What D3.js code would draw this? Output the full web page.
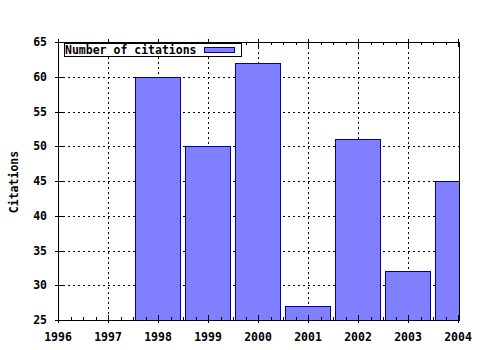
<!DOCTYPE html>
<html>
<head>
<meta charset="utf-8">
<script src="https://cdn.jsdelivr.net/npm/d3@7"></script>
<style>
  body { margin: 0; background: white; }
  text { font-family: "DejaVu Sans Mono", monospace; font-weight: bold; font-size: 11.5px; fill: black; }
</style>
</head>
<body>
<script>
// data
const years = [1998, 1999, 2000, 2001, 2002, 2003, 2004];
const citations = [60, 50, 62, 27, 51, 32, 45];
const xTicks = [1996, 1997, 1998, 1999, 2000, 2001, 2002, 2003, 2004];
const yTicks = [25, 30, 35, 40, 45, 50, 55, 60, 65];
const seriesName = "Number of citations";
const yTitle = "Citations";

const width = 480, height = 350;
const plotL = 58, plotR = 459, plotT = 42, plotB = 320;

const svg = d3.select("body").append("svg")
    .attr("width", width)
    .attr("height", height);

const x = d3.scaleLinear().domain([1996, 2004]).range([plotL, plotR - 1]);
const y = d3.scaleLinear().domain([25, 65]).range([plotB, plotT]);

svg.append("clipPath").attr("id", "plot")
  .append("rect")
    .attr("x", plotL).attr("y", plotT)
    .attr("width", plotR - plotL).attr("height", plotB - plotT);

// grid
const grid = svg.append("g")
    .attr("stroke", "black")
    .attr("stroke-dasharray", "2,3")
    .attr("shape-rendering", "crispEdges");
grid.selectAll(".gx")
  .data(xTicks.slice(1, -1))
  .join("line")
    .attr("class", "gx")
    .attr("x1", d => Math.round(x(d)) + 0.5).attr("x2", d => Math.round(x(d)) + 0.5)
    .attr("y1", plotT).attr("y2", plotB);
grid.selectAll(".gy")
  .data(yTicks.slice(1, -1))
  .join("line")
    .attr("class", "gy")
    .attr("x1", plotL).attr("x2", plotR)
    .attr("y1", d => Math.round(y(d)) + 0.5).attr("y2", d => Math.round(y(d)) + 0.5);

// bars
const barW = x(1996.9) - x(1996);
svg.append("g")
    .attr("clip-path", "url(#plot)")
  .selectAll("rect")
  .data(years.map((d, i) => ({ year: d, value: citations[i] })))
  .join("rect")
    .attr("x", d => Math.round(x(d.year) - barW / 2) + 0.5)
    .attr("y", d => Math.round(y(d.value)) + 0.5)
    .attr("width", Math.round(barW))
    .attr("height", d => plotB - Math.round(y(d.value)))
    .attr("fill", "#8080ff")
    .attr("stroke", "#0000a0")
    .attr("shape-rendering", "crispEdges");

// frame
const axes = svg.append("g")
    .attr("stroke", "black")
    .attr("shape-rendering", "crispEdges");
axes.append("line").attr("x1", plotL + 0.5).attr("x2", plotL + 0.5).attr("y1", plotT).attr("y2", plotB + 1);
axes.append("line").attr("x1", plotR + 0.5).attr("x2", plotR + 0.5).attr("y1", plotT).attr("y2", plotB + 1);
axes.append("line").attr("x1", plotL).attr("x2", plotR + 1).attr("y1", plotT + 0.5).attr("y2", plotT + 0.5);
axes.append("line").attr("x1", plotL).attr("x2", plotR + 1).attr("y1", plotB + 0.5).attr("y2", plotB + 0.5);

// x ticks: majors and quarter-year minors on bottom and top
const minor = d3.range(0, 33).map(i => 1996 + i / 4);
axes.selectAll(".tx")
  .data(minor)
  .join("line")
    .attr("class", "tx")
    .attr("x1", d => Math.round(x(d)) + 0.5).attr("x2", d => Math.round(x(d)) + 0.5)
    .attr("y1", d => d % 1 === 0 ? plotB + 3 : plotB)
    .attr("y2", d => d % 1 === 0 ? plotB - 5 : plotB - 3);
axes.selectAll(".tt")
  .data(minor)
  .join("line")
    .attr("class", "tt")
    .attr("x1", d => Math.round(x(d)) + 0.5).attr("x2", d => Math.round(x(d)) + 0.5)
    .attr("y1", d => d % 1 === 0 ? plotT - 3 : plotT)
    .attr("y2", d => d % 1 === 0 ? plotT + 5 : plotT + 3);

// y ticks
axes.selectAll(".ty")
  .data(yTicks)
  .join("line")
    .attr("class", "ty")
    .attr("x1", plotL - 3).attr("x2", plotL + 5)
    .attr("y1", d => Math.round(y(d)) + 0.5).attr("y2", d => Math.round(y(d)) + 0.5);

// tick labels
svg.append("g").selectAll("text")
  .data(xTicks)
  .join("text")
    .attr("x", d => x(d))
    .attr("y", 341)
    .attr("text-anchor", "middle")
    .text(d => d);
svg.append("g").selectAll("text")
  .data(yTicks)
  .join("text")
    .attr("x", 47)
    .attr("y", d => y(d) + 4)
    .attr("text-anchor", "end")
    .text(d => d);

// axis title
svg.append("text")
    .attr("transform", "translate(18,182) rotate(-90)")
    .attr("text-anchor", "middle")
    .text(yTitle);

// legend
const legend = svg.append("g");
legend.append("rect")
    .attr("x", 64.5).attr("y", 43.5)
    .attr("width", 177).attr("height", 13)
    .attr("fill", "white").attr("stroke", "black")
    .attr("shape-rendering", "crispEdges");
legend.append("text")
    .attr("x", 65).attr("y", 54)
    .text(seriesName);
legend.append("rect")
    .attr("x", 204.5).attr("y", 47.5)
    .attr("width", 30).attr("height", 5)
    .attr("fill", "#8080ff").attr("stroke", "#0000a0")
    .attr("shape-rendering", "crispEdges");
</script>
</body>
</html>
